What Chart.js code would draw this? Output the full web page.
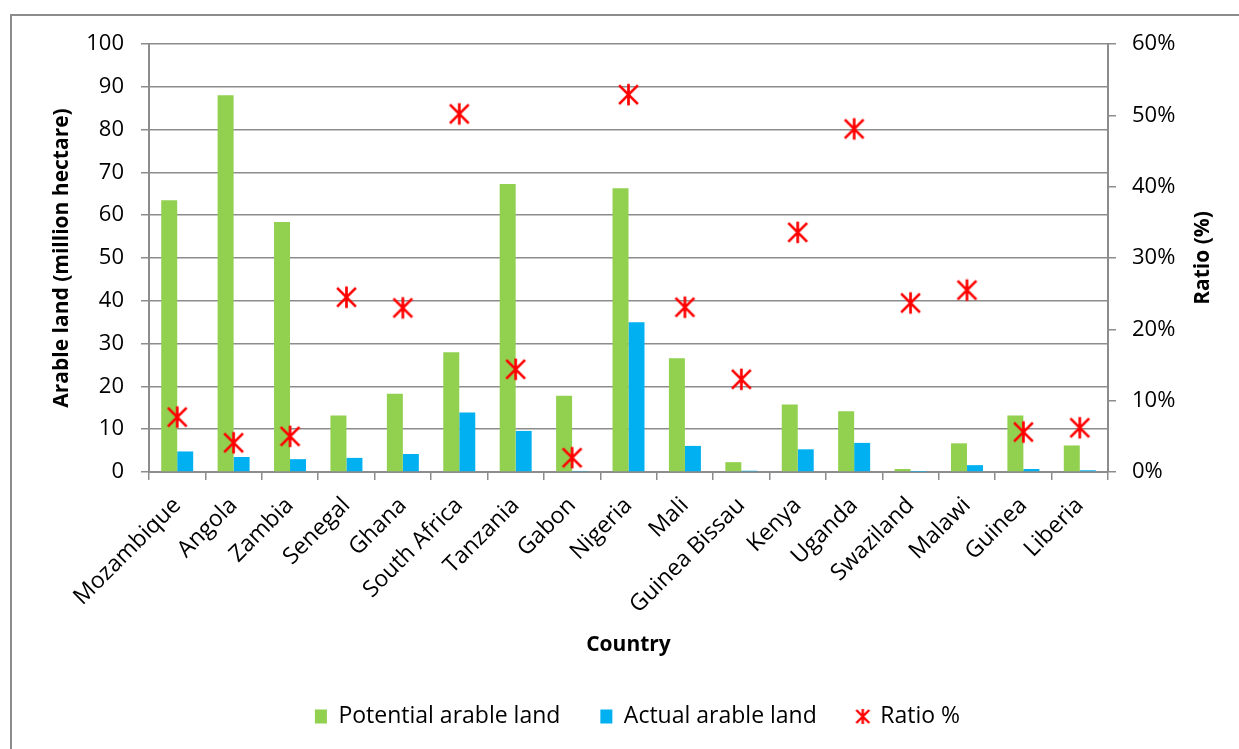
<!DOCTYPE html>
<html>
<head>
<meta charset="utf-8">
<script src="https://cdn.jsdelivr.net/npm/chart.js@4.4.0/dist/chart.umd.min.js"></script>
<style>
  html, body { margin: 0; padding: 0; background: #ffffff; overflow: hidden; }
  #wrap { position: relative; width: 1239px; height: 749px; }
  #frame { position: absolute; left: 10px; top: 14px; width: 1300px; height: 800px; border: 2px solid #8c8c8c; box-sizing: border-box; pointer-events: none; }
  canvas { position: absolute; left: 0; top: 0; }
</style>
</head>
<body>
<div id="wrap">
  <div id="frame"></div>
  <canvas id="c" width="1239" height="749"></canvas>
</div>
<script>
const countries = ["Mozambique","Angola","Zambia","Senegal","Ghana","South Africa","Tanzania","Gabon","Nigeria","Mali","Guinea Bissau","Kenya","Uganda","Swaziland","Malawi","Guinea","Liberia"];
const potentialArable = [63.5, 88.0, 58.4, 13.2, 18.3, 28.0, 67.3, 17.8, 66.3, 26.6, 2.3, 15.8, 14.2, 0.7, 6.7, 13.2, 6.2];
const actualArable    = [4.8, 3.5, 3.0, 3.3, 4.2, 13.9, 9.6, 0.25, 35.0, 6.1, 0.3, 5.3, 6.8, 0.05, 1.6, 0.7, 0.4];
const ratioPercent    = [7.7, 4.1, 5.0, 24.5, 23.0, 50.2, 14.4, 2.0, 52.9, 23.1, 13.0, 33.6, 48.1, 23.7, 25.5, 5.6, 6.2];
const seriesNames = ["Potential arable land", "Actual arable land", "Ratio %"];
const leftTitle = "Arable land (million hectare)";
const rightTitle = "Ratio (%)";
const xTitle = "Country";

const FONT = "'Open Sans', 'Noto Sans', sans-serif";
const GRID = "#8c8c8c";

// custom asterisk marker (X with a vertical stroke)
function makeMarker(half, lw) {
  const size = Math.ceil(half * 2 + 6);
  const c = document.createElement('canvas');
  c.width = size; c.height = size;
  const g = c.getContext('2d');
  g.strokeStyle = '#ff0000';
  g.lineWidth = lw;
  const cx = size / 2, cy = size / 2;
  g.beginPath();
  g.moveTo(cx - half, cy - half); g.lineTo(cx + half, cy + half);
  g.moveTo(cx + half, cy - half); g.lineTo(cx - half, cy + half);
  g.moveTo(cx, cy - half * 1.15); g.lineTo(cx, cy + half * 1.15);
  g.stroke();
  return c;
}
const marker = makeMarker(9.4, 2.7);
const legendMarker = makeMarker(6.5, 2.4);

const rightTitlePlugin = {
  id: 'rightTitle',
  afterLayout(chart) {
    // nudge legend to the right, as in the reference
    if (chart.legend) { chart.legend.left += 36; }
  },
  afterDraw(chart) {
    const s = chart.scales.y1;
    const ctx = chart.ctx;
    ctx.save();
    ctx.font = "bold 21px " + FONT;
    ctx.fillStyle = '#000';
    ctx.textAlign = 'center';
    ctx.textBaseline = 'middle';
    ctx.translate(s.right - 36, (chart.chartArea.top + chart.chartArea.bottom) / 2);
    ctx.rotate(-Math.PI / 2);
    ctx.fillText(rightTitle, 0, 0);
    ctx.restore();
  }
};

new Chart(document.getElementById('c'), {
  type: 'bar',
  data: {
    labels: countries,
    datasets: [
      { label: seriesNames[0], data: potentialArable, backgroundColor: '#92d050', borderWidth: 0, yAxisID: 'y', order: 1, categoryPercentage: 0.567, barPercentage: 1.0 },
      { label: seriesNames[1], data: actualArable, backgroundColor: '#00b0f0', borderWidth: 0, yAxisID: 'y', order: 1, categoryPercentage: 0.567, barPercentage: 1.0 },
      { type: 'line', label: seriesNames[2], data: ratioPercent, yAxisID: 'y1', showLine: false, pointStyle: marker, pointRadius: 10, borderColor: '#ff0000', backgroundColor: '#ff0000', order: 0 }
    ]
  },
  options: {
    responsive: false,
    animation: false,
    devicePixelRatio: 1,
    layout: { padding: { left: 0, right: 0, top: 44, bottom: 11 } },
    plugins: {
      tooltip: { enabled: false },
      legend: {
        position: 'bottom',
        labels: {
          font: { family: FONT, size: 23 },
          color: '#000',
          usePointStyle: true,
          pointStyleWidth: 12,
          boxHeight: 14,
          padding: 40,
          sort: (a, b) => a.datasetIndex - b.datasetIndex,
          generateLabels(chart) {
            const items = Chart.defaults.plugins.legend.labels.generateLabels(chart);
            items.forEach(it => {
              if (it.datasetIndex < 2) { it.pointStyle = 'rect'; it.lineWidth = 0; it.strokeStyle = it.fillStyle; }
              else { it.pointStyle = legendMarker; }
            });
            return items;
          }
        }
      }
    },
    scales: {
      x: {
        grid: { display: true, drawOnChartArea: false, drawTicks: true, tickLength: 8, color: GRID, lineWidth: 1.5, offset: true },
        border: { display: true, color: GRID, width: 2 },
        ticks: { font: { family: FONT, size: 23 }, color: '#000', minRotation: 45, maxRotation: 45, autoSkip: false, padding: 12 },
        title: { display: true, text: xTitle, font: { family: FONT, size: 21, weight: 'bold' }, color: '#000', padding: { top: 0, bottom: 7 } },
        afterFit(scale) { scale.height = 193; }
      },
      y: {
        position: 'left',
        min: 0, max: 100,
        ticks: { stepSize: 10, font: { family: FONT, size: 22 }, color: '#000', padding: 17 },
        grid: { color: GRID, lineWidth: 1.5, tickLength: 8, drawTicks: true },
        border: { display: true, color: GRID, width: 2 },
        title: { display: true, text: leftTitle, font: { family: FONT, size: 21, weight: 'bold' }, color: '#000', padding: { top: 49, bottom: 0 } },
        afterFit(scale) { scale.width = 149; }
      },
      y1: {
        position: 'right',
        min: 0, max: 60,
        ticks: { stepSize: 10, font: { family: FONT, size: 22 }, color: '#000', padding: 16, callback: v => v + '%' },
        grid: { drawOnChartArea: false, drawTicks: true, tickLength: 8, color: GRID, lineWidth: 1.5 },
        border: { display: true, color: GRID, width: 2 },
        title: { display: false },
        afterFit(scale) { scale.width = 131; }
      }
    }
  },
  plugins: [rightTitlePlugin]
});
</script>
</body>
</html>
